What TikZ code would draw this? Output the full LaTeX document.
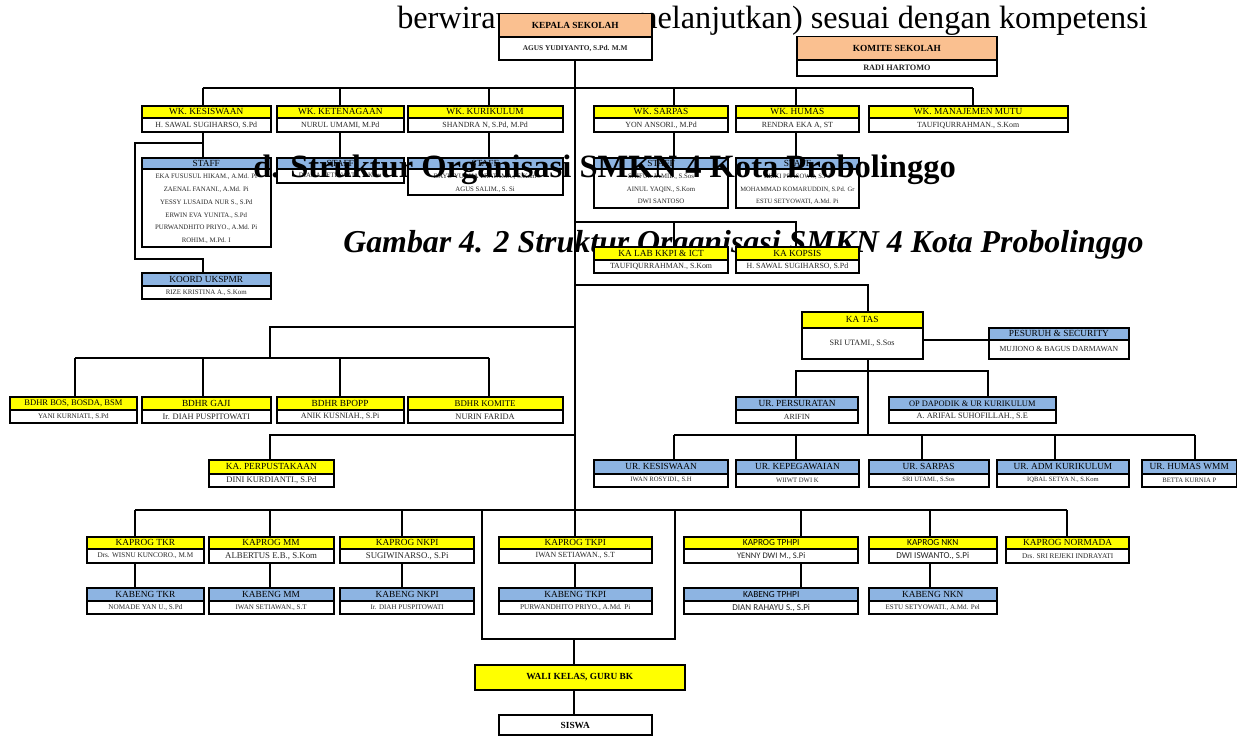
\documentclass[tikz,border=0pt]{standalone}
\usepackage{fontspec}
\setmainfont{Liberation Serif}
\newfontfamily\calfont{Carlito}
\definecolor{yel}{HTML}{FFFF00}
\definecolor{blu}{HTML}{8DB4E2}
\definecolor{peach}{HTML}{FAC090}
\newcommand{\fz}[1]{\fontsize{#1}{#1}\selectfont}
\pgfdeclarelayer{cap}
\pgfdeclarelayer{lines}
\pgfdeclarelayer{front}
\pgfsetlayers{cap,lines,main,front}
\tikzset{
  hd/.style={draw, line width=1.35pt, inner sep=0pt, font=\fontsize{7}{8}\selectfont, text=black},
  bd/.style={draw, line width=1.35pt, fill=white, inner sep=0pt, font=\fontsize{5.9}{7}\selectfont, text=black!85},
  ln/.style={line width=1.35pt},
  big/.style={anchor=base west, inner sep=0pt}
}
% name, x1, y1, x2, ysplit, y2, fill, header, body
\newcommand{\obox}[9]{%
  \node[hd, fill=#7, minimum width={(#4-#2)*0.75pt}, minimum height={(#5-#3)*0.75pt}, anchor=north west] (#1h) at (#2,#3) {#8};
  \node[bd, minimum width={(#4-#2)*0.75pt}, minimum height={(#6-#5)*0.75pt}, anchor=north west] (#1) at (#2,#5) {#9};
}
\begin{document}
\begin{tikzpicture}[x=0.75pt,y=-0.75pt]
\useasboundingbox (0,0) rectangle (1237,735);
\begin{pgfonlayer}{cap}
  \fill[white] (0,0) rectangle (1237,735);
  \node[big] (tx1) at (397,29) {\fontsize{24.2}{28}\selectfont berwirau};
  \node[anchor=base east, inner sep=0pt] (tx2) at (1148,29) {\fontsize{24.2}{28}\selectfont melanjutkan) sesuai dengan kompetensi};
  \node[big] (caption) at (343,252) {\fontsize{23.9}{28}\selectfont\bfseries\itshape Gambar 4. 2 Struktur Organisasi SMKN 4 Kota Probolinggo};
\end{pgfonlayer}

% ---------- top ----------
\obox{kep}{497.7}{12.7}{651}{36}{59}{peach}{\bfseries KEPALA SEKOLAH}{\bfseries\fz{5.5}AGUS YUDIYANTO, S.Pd. M.M}
\obox{kom}{796}{35.7}{996}{59}{75}{peach}{\bfseries KOMITE SEKOLAH}{\bfseries\fz{6.2}RADI HARTOMO}

% ---------- WK row ----------
\obox{wkkes}{140.7}{104.7}{270}{117.3}{131}{yel}{WK. KESISWAAN}{H. SAWAL SUGIHARSO, S.Pd}
\obox{wkket}{276}{104.7}{402.7}{117.3}{131}{yel}{WK. KETENAGAAN}{NURUL UMAMI, M.Pd}
\obox{wkkur}{406.7}{104.7}{561.7}{117.3}{131}{yel}{WK. KURIKULUM}{SHANDRA N, S.Pd, M.Pd}
\obox{wksar}{593}{104.7}{727.3}{117.3}{131}{yel}{WK. SARPAS}{YON ANSORI., M.Pd}
\obox{wkhum}{734.7}{104.7}{858.3}{117.3}{131}{yel}{WK. HUMAS}{RENDRA EKA A, ST}
\obox{wkmut}{867.7}{104.7}{1066.7}{117.3}{131}{yel}{WK. MANAJEMEN MUTU}{TAUFIQURRAHMAN., S.Kom}

% ---------- STAFF ----------
\obox{stkes}{140.7}{156.7}{270}{168.3}{245.7}{blu}{STAFF}{\fontsize{5.1}{9.7}\selectfont\begin{tabular}{@{}c@{}}EKA FUSUSUL HIKAM., A.Md. Pi\\ZAENAL FANANI., A.Md. Pi\\YESSY LUSAIDA NUR S., S.Pd\\ERWIN EVA YUNITA., S.Pd\\PURWANDHITO PRIYO., A.Md. Pi\\ROHIM., M.Pd. I\end{tabular}}
\obox{stket}{276}{156.7}{402.7}{168.3}{181.7}{blu}{STAFF}{\fz{5.1}DIANA SETIAWATI., S.Kom}
\obox{stkur}{406.7}{156.7}{561.7}{168.3}{194.3}{blu}{STAFF}{\fontsize{5.1}{9.6}\selectfont\begin{tabular}{@{}c@{}}BAYU YUDHA PRATAMA., S.Kom\\AGUS SALIM., S. Si\end{tabular}}
\obox{stsar}{593}{156.7}{727.3}{168.3}{207.3}{blu}{STAFF}{\fontsize{5.1}{9.5}\selectfont\begin{tabular}{@{}c@{}}SAIFUL JAMIL., S.Sos\\AINUL YAQIN., S.Kom\\DWI SANTOSO\end{tabular}}
\obox{sthum}{734.7}{156.7}{858.3}{168.3}{207.3}{blu}{STAFF}{\fontsize{4.9}{9.5}\selectfont\begin{tabular}{@{}c@{}}RIZKI PRASOWO, S.Pd\\MOHAMMAD KOMARUDDIN, S.Pd. Gr\\ESTU SETYOWATI, A.Md. Pi\end{tabular}}
\obox{koord}{140.7}{272.3}{270}{285}{297.7}{blu}{KOORD UKSPMR}{\fz{5.2}RIZE KRISTINA A., S.Kom}

% ---------- KA LAB / KOPSIS ----------
\obox{kalab}{593}{246}{727.3}{259}{272.3}{yel}{KA LAB KKPI \& ICT}{TAUFIQURRAHMAN., S.Kom}
\obox{kopsis}{734.7}{246}{858.3}{259}{272.3}{yel}{KA KOPSIS}{H. SAWAL SUGIHARSO, S.Pd}

% ---------- KA TAS ----------
\obox{katas}{800.7}{311}{921.7}{326.7}{357.7}{yel}{KA TAS}{\fz{6.1}SRI UTAMI., S.Sos}
\obox{pes}{987.7}{326.7}{1128.3}{339}{357.7}{blu}{PESURUH \& SECURITY}{\fz{5.8}MUJIONO \& BAGUS DARMAWAN}
\obox{urpers}{735}{395.7}{857.3}{409}{422.3}{blu}{UR. PERSURATAN}{ARIFIN}
\obox{opdap}{887.7}{395.7}{1055}{409}{422.3}{blu}{\fz{6.3}OP DAPODIK \& UR KURIKULUM}{\fz{6.2}A. ARIFAL SUHOFILLAH., S.E}

% ---------- UR row ----------
\obox{urkes}{593}{459.3}{727.3}{472.7}{486}{blu}{UR. KESISWAAN}{\fz{5}IWAN ROSYIDI., S.H}
\obox{urpeg}{734.7}{459.3}{858.3}{472.7}{486}{blu}{UR. KEPEGAWAIAN}{\fz{5}WIIWT DWI K}
\obox{ursar}{867.7}{459.3}{987.7}{472.7}{486}{blu}{UR. SARPAS}{\fz{4.9}SRI UTAMI., S.Sos}
\obox{uradm}{995.7}{459.3}{1128.3}{472.7}{486}{blu}{UR. ADM KURIKULUM}{\fz{4.9}IQBAL SETYA N., S.Kom}
\obox{urhum}{1140.7}{459.3}{1236}{472.7}{486}{blu}{UR. HUMAS WMM}{\fz{5}BETTA KURNIA P}

% ---------- BDHR ----------
\obox{bos}{9.3}{395.7}{135.7}{409}{422.3}{yel}{\fz{6.4}BDHR BOS, BOSDA, BSM}{\fz{5.3}YANI KURNIATI., S.Pd}
\obox{gaji}{140.7}{395.7}{270}{409}{422.3}{yel}{BDHR GAJI}{\fz{6.3}Ir. DIAH PUSPITOWATI}
\obox{bpopp}{275.7}{395.7}{402.7}{409}{422.3}{yel}{BDHR BPOPP}{\fz{6.1}ANIK KUSNIAH., S.Pi}
\obox{bkom}{406.7}{395.7}{561.7}{409}{422.3}{yel}{\fz{6.6}BDHR KOMITE}{\fz{6.3}NURIN FARIDA}
\obox{perp}{207.7}{459.3}{333.3}{472.7}{486}{yel}{KA. PERPUSTAKAAN}{\fz{6.4}DINI KURDIANTI., S.Pd}

% ---------- KAPROG ----------
\obox{ptkr}{85.7}{535.7}{203.3}{548.3}{561.7}{yel}{KAPROG TKR}{\fz{5.4}Drs. WISNU KUNCORO., M.M}
\obox{pmm}{207.7}{535.7}{332.7}{548.3}{561.7}{yel}{KAPROG MM}{\fz{6.6}ALBERTUS E.B., S.Kom}
\obox{pnkpi}{339.3}{535.7}{473.3}{548.3}{561.7}{yel}{KAPROG NKPI}{\fz{6.6}SUGIWINARSO., S.Pi}
\obox{ptkpi}{497.7}{535.7}{651}{548.3}{561.7}{yel}{KAPROG TKPI}{IWAN SETIAWAN., S.T}
\obox{ptph}{683.3}{535.7}{857.3}{548.3}{561.7}{yel}{\calfont\fz{7}KAPROG TPHPI}{\calfont\fz{6.4}YENNY DWI M., S.Pi}
\obox{pnkn}{867.7}{535.7}{996}{548.3}{561.7}{yel}{\calfont\fz{7}KAPROG NKN}{\calfont\fz{6.8}DWI ISWANTO., S.Pi}
\obox{pnorm}{1005.3}{535.7}{1128.3}{548.3}{561.7}{yel}{KAPROG NORMADA}{\fz{5.4}Drs. SRI REJEKI INDRAYATI}

% ---------- KABENG ----------
\obox{btkr}{85.7}{587.3}{203.3}{600}{613.3}{blu}{KABENG TKR}{\fz{5.4}NOMADE YAN U., S.Pd}
\obox{bmm}{207.7}{587.3}{332.7}{600}{613.3}{blu}{KABENG MM}{\fz{5.3}IWAN SETIAWAN., S.T}
\obox{bnkpi}{339.3}{587.3}{473.3}{600}{613.3}{blu}{KABENG NKPI}{\fz{5.3}Ir. DIAH PUSPITOWATI}
\obox{btkpi}{497.7}{587.3}{651}{600}{613.3}{blu}{KABENG TKPI}{\fz{5.5}PURWANDHITO PRIYO., A.Md. Pi}
\obox{btph}{683.3}{587.3}{857.3}{600}{613.3}{blu}{\calfont\fz{7}KABENG TPHPI}{\calfont\fz{6.8}DIAN RAHAYU S., S.Pi}
\obox{bnkn}{867.7}{587.3}{996}{600}{613.3}{blu}{KABENG NKN}{\fz{5.3}ESTU SETYOWATI., A.Md. Pel}

% ---------- bottom ----------
\node[hd, fill=yel, minimum width={(684-473.7)*0.75pt}, minimum height={(689-664)*0.75pt}, anchor=north west] (wali) at (473.7,664) {\bfseries WALI KELAS, GURU BK};
\node[bd, text=black, minimum width={(651-497.7)*0.75pt}, minimum height={(734.2-714)*0.75pt}, anchor=north west] (siswa) at (497.7,714) {\bfseries\fz{7}SISWA};

% ---------- connectors ----------
\begin{pgfonlayer}{lines}
  % trunk
  \draw[ln] (kep.south) -- (btkpih.north);
  % WK bus
  \coordinate (wb1) at (202.7,88);
  \coordinate (wb2) at (340,88);
  \coordinate (wb3) at (489,88);
  \coordinate (wb4) at (673.7,88);
  \coordinate (wb5) at (796,88);
  \coordinate (wb6) at (973.3,88);
  \draw[ln] (wb1) -- (wb6);
  \draw[ln] (wb1) -- (wb1 |- stkesh.north);
  \draw[ln] (wb2) -- (wb2 |- stketh.north);
  \draw[ln] (wb3) -- (wb3 |- stkurh.north);
  \draw[ln] (wb4) -- (wb4 |- stsarh.north);
  \draw[ln] (wb5) -- (wb5 |- sthumh.north);
  \draw[ln] (wb6) -- (wb6 |- wkmuth.north);
  % kesiswaan loop to koord
  \coordinate (k1) at (202.7,143.3);
  \coordinate (k2) at (135,143.3);
  \coordinate (k3) at (135,259);
  \coordinate (k4) at (202.7,259);
  \draw[ln] (k1) -- (k2) -- (k3) -- (k4) -- (k4 |- koordh.north);
  % ka lab / kopsis
  \coordinate (l0) at (574,221.7);
  \coordinate (l1) at (673.7,221.7);
  \coordinate (l2) at (796,221.7);
  \draw[ln] (l0) -- (l2) -- (l2 |- kopsish.north);
  \draw[ln] (l1) -- (l1 |- kalabh.north);
  % ka tas
  \coordinate (s0) at (574,285);
  \coordinate (s1) at (868.3,285);
  \coordinate (s2) at (921.7,340);
  \coordinate (u0) at (868.3,435);
  \draw[ln] (s0) -- (s1) -- (s1 |- katash.north);
  \draw[ln] (s2) -- (s2 -| pes.west);
  \draw[ln] (s1 |- katas.south) -- (u0);
  % persuratan / dapodik
  \coordinate (p1) at (796,370.7);
  \coordinate (p2) at (987.7,370.7);
  \draw[ln] (p1 |- urpersh.north) -- (p1) -- (p2) -- (p2 |- opdaph.north);
  % UR bus
  \coordinate (ub1) at (674,435);
  \coordinate (ub2) at (796,435);
  \coordinate (ub3) at (921.7,435);
  \coordinate (ub4) at (1055,435);
  \coordinate (ub5) at (1195,435);
  \draw[ln] (ub1) -- (ub5);
  \draw[ln] (ub1) -- (ub1 |- urkesh.north);
  \draw[ln] (ub2) -- (ub2 |- urpegh.north);
  \draw[ln] (ub3) -- (ub3 |- ursarh.north);
  \draw[ln] (ub4) -- (ub4 |- uradmh.north);
  \draw[ln] (ub5) -- (ub5 |- urhumh.north);
  % BDHR
  \coordinate (b0) at (574,326.7);
  \coordinate (b1) at (270,326.7);
  \coordinate (bb1) at (75,357.7);
  \coordinate (bb2) at (202.7,357.7);
  \coordinate (bb3) at (340,357.7);
  \coordinate (bb4) at (489,357.7);
  \draw[ln] (b0) -- (b1) -- (b1 |- bb1);
  \draw[ln] (bb1) -- (bb4);
  \draw[ln] (bb1) -- (bb1 |- bosh.north);
  \draw[ln] (bb2) -- (bb2 |- gajih.north);
  \draw[ln] (bb3) -- (bb3 |- bpopph.north);
  \draw[ln] (bb4) -- (bb4 |- bkomh.north);
  % perpustakaan
  \coordinate (q0) at (574,435);
  \coordinate (q1) at (270,435);
  \draw[ln] (q0) -- (q1) -- (q1 |- perph.north);
  % KAPROG bus
  \coordinate (kb1) at (135,510);
  \coordinate (kb2) at (270,510);
  \coordinate (kb3) at (401.7,510);
  \coordinate (kb4) at (482,510);
  \coordinate (kb6) at (675,510);
  \coordinate (kb7) at (801,510);
  \coordinate (kb8) at (930,510);
  \coordinate (kb9) at (1067,510);
  \draw[ln] (kb1) -- (kb9);
  \draw[ln] (kb1) -- (kb1 |- btkrh.north);
  \draw[ln] (kb2) -- (kb2 |- bmmh.north);
  \draw[ln] (kb3) -- (kb3 |- bnkpih.north);
  \draw[ln] (kb7) -- (kb7 |- btphh.north);
  \draw[ln] (kb8) -- (kb8 |- bnknh.north);
  \draw[ln] (kb9) -- (kb9 |- pnormh.north);
  % loop to wali kelas
  \coordinate (lp1) at (482,638.7);
  \coordinate (lp0) at (574,638.7);
  \coordinate (lp2) at (675,638.7);
  \draw[ln] (kb4) -- (lp1) -- (lp2) -- (kb6);
  \draw[ln] (lp0) -- (lp0 |- wali.north);
  \draw[ln] (lp0 |- wali.south) -- (lp0 |- siswa.north);
\end{pgfonlayer}

\begin{pgfonlayer}{front}
  \node[big] (heading) at (253,177) {\fontsize{24.4}{28}\selectfont\bfseries d. Struktur Organisasi SMKN 4 Kota Probolinggo};
\end{pgfonlayer}
\end{tikzpicture}
\end{document}
